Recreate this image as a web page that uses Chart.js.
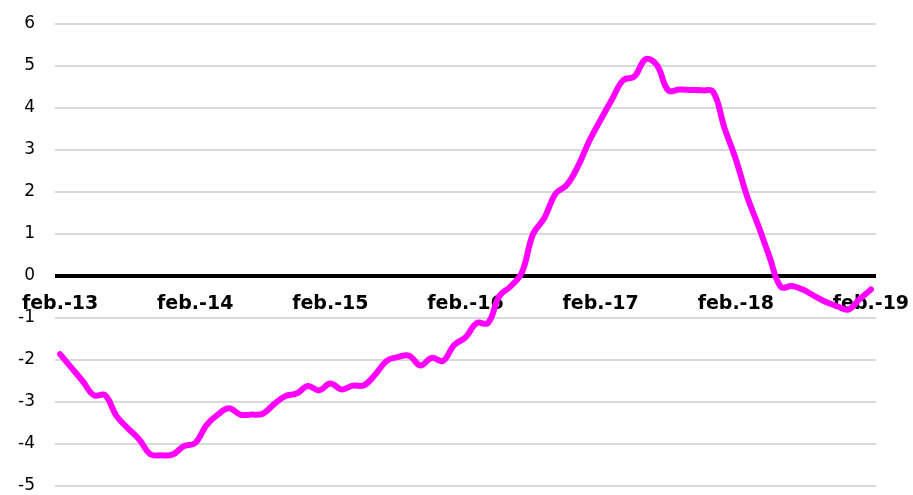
<!DOCTYPE html>
<html>
<head>
<meta charset="utf-8">
<script src="https://cdn.jsdelivr.net/npm/chart.js@4.4.1/dist/chart.umd.min.js"></script>
<style>
    html, body { margin: 0; padding: 0; background: #fff; }
    #wrap { width: 913px; height: 495px; }
</style>
</head>
<body>
<div id="wrap"><canvas id="chart"></canvas></div>
<script>
// monthly points, feb.-13 .. feb.-19 (73 months)
const tickLabels = ["feb.-13", "feb.-14", "feb.-15", "feb.-16", "feb.-17", "feb.-18", "feb.-19"];
const values = [
    -1.86, -2.18, -2.50, -2.84, -2.84, -3.33, -3.62, -3.88, -4.24, -4.27, -4.25, -4.05,
    -3.98, -3.55, -3.30, -3.15, -3.30, -3.30, -3.28, -3.05, -2.86, -2.80, -2.62, -2.72,
    -2.56, -2.70, -2.61, -2.60, -2.34, -2.02, -1.93, -1.90, -2.13, -1.95, -2.02, -1.64,
    -1.46, -1.12, -1.12, -0.48, -0.25, 0.08, 1.00, 1.38, 1.96, 2.17, 2.62, 3.22,
    3.72, 4.20, 4.66, 4.75, 5.16, 5.02, 4.42, 4.44, 4.43, 4.42, 4.38, 3.52,
    2.78, 1.90, 1.20, 0.45, -0.26, -0.24, -0.33, -0.48, -0.62, -0.72, -0.80, -0.55,
    -0.32
];

// keep the axes from eating into the plot area
function noPad(scale) {
    scale.paddingTop = scale.paddingBottom = 0;
    scale.paddingLeft = scale.paddingRight = 0;
}

const ctx = document.getElementById("chart").getContext("2d");
new Chart(ctx, {
    type: "line",
    data: {
        datasets: [{
            data: values.map((v, i) => ({ x: i, y: v })),
            borderColor: "#ff00ff",
            borderWidth: 6,
            borderCapStyle: "round",
            borderJoinStyle: "round",
            pointRadius: 0,
            tension: 0.4,
            fill: false
        }]
    },
    options: {
        responsive: true,
        maintainAspectRatio: false,
        animation: false,
        layout: { padding: { top: 24, right: 37, bottom: 9, left: 0 } },
        plugins: {
            legend: { display: false },
            tooltip: { enabled: false }
        },
        scales: {
            x: {
                type: "linear",
                position: { y: 0 },
                min: -0.45,
                max: 72.45,
                z: 1,
                grid: { display: false },
                border: { display: false },
                afterBuildTicks: scale => {
                    scale.ticks = tickLabels.map((t, i) => ({ value: i * 12 }));
                },
                afterFit: scale => { scale.height = 0; noPad(scale); },
                ticks: {
                    autoSkip: false,
                    maxRotation: 0,
                    padding: 9,
                    color: "#000",
                    font: { family: "DejaVu Sans", size: 19, weight: "bold" },
                    callback: v => tickLabels[v / 12]
                }
            },
            y: {
                min: -5,
                max: 6,
                afterFit: scale => { scale.width = 55; noPad(scale); },
                border: { display: false },
                grid: {
                    drawTicks: false,
                    color: c => c.tick.value === 0 ? "#000" : "#d9d9d9",
                    lineWidth: c => c.tick.value === 0 ? 4 : 2
                },
                ticks: {
                    stepSize: 1,
                    padding: 20,
                    color: "#000",
                    font: { family: "DejaVu Sans", size: 17 }
                }
            }
        }
    }
});
</script>
</body>
</html>
